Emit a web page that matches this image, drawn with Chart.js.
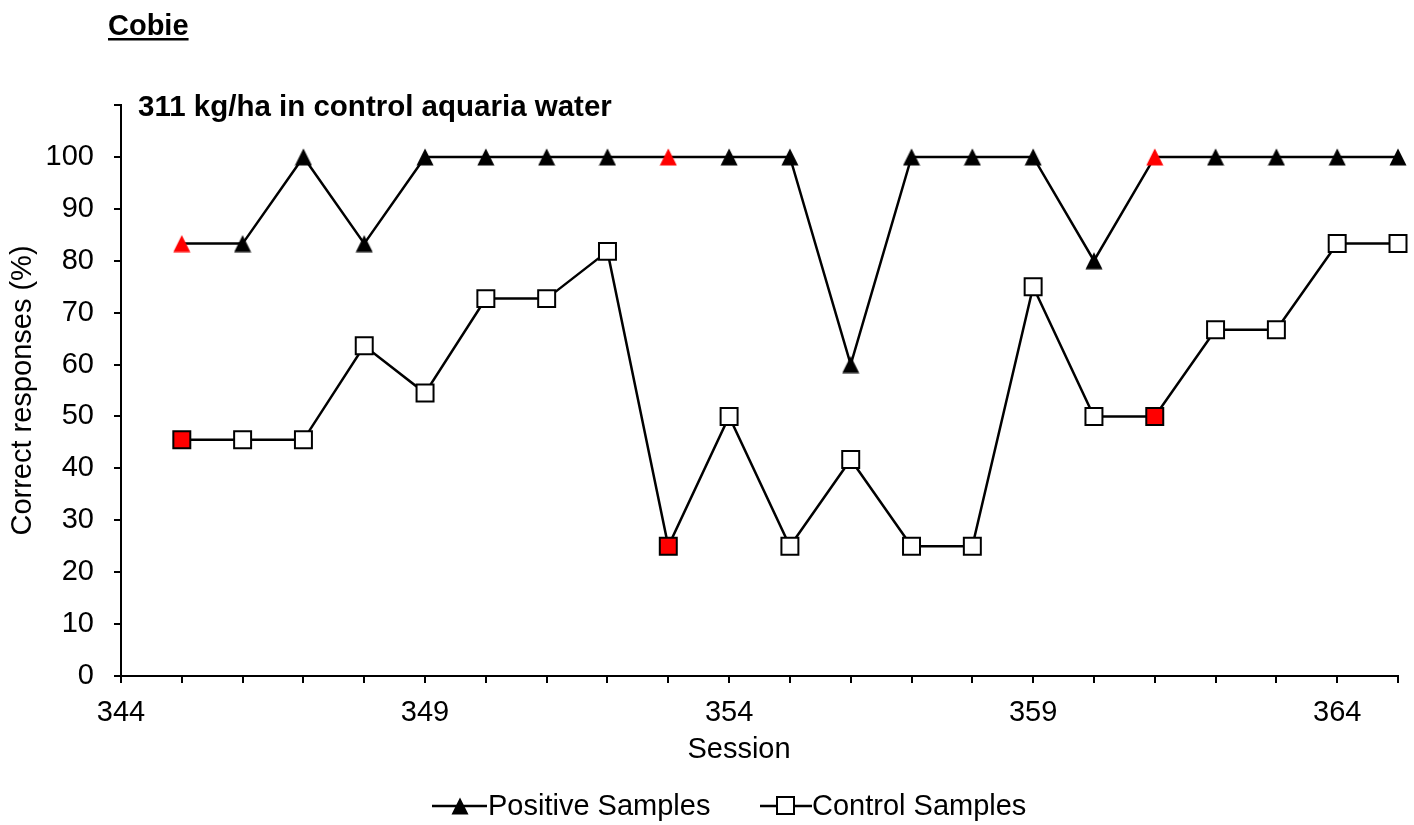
<!DOCTYPE html>
<html lang="en">
<head>
  <meta charset="UTF-8" />
  <title>Cobie</title>
  <script src="https://cdn.jsdelivr.net/npm/chart.js"></script>
  <style>
    body { margin: 0; background: #fff; }
    #chart { display: block; }
  </style>
</head>
<body>
  <canvas id="chart" width="1414" height="825"></canvas>

  <script>
    // sessions and % correct for each sample type
    const sessions = [345, 346, 347, 348, 349, 350, 351, 352, 353, 354, 355,
                      356, 357, 358, 359, 360, 361, 362, 363, 364, 365];
    const positive = [83.3, 83.3, 100, 83.3, 100, 100, 100, 100, 100, 100, 100,
                      60, 100, 100, 100, 80, 100, 100, 100, 100, 100];
    const control  = [45.5, 45.5, 45.5, 63.6, 54.5, 72.7, 72.7, 81.8, 25, 50, 25,
                      41.7, 25, 25, 75, 50, 50, 66.7, 66.7, 83.3, 83.3];
    // sessions marked in red
    const marked = [345, 353, 361];

    const FONT = 'Arial, "Liberation Sans", sans-serif';
    const FS = 29;
    const RED = '#ff0000';

    // triangle marker centred on its box (built-in one sits on its centroid)
    function triangle(color) {
      const cv = document.createElement('canvas');
      cv.width = 18; cv.height = 18;
      const g = cv.getContext('2d');
      g.fillStyle = color;
      g.beginPath();
      g.moveTo(9, 0.5); g.lineTo(17.5, 17.5); g.lineTo(0.5, 17.5);
      g.closePath();
      g.fill();
      return cv;
    }
    const triBlack = triangle('#000');
    const triRed = triangle(RED);

    const triStyles = sessions.map(s => marked.includes(s) ? triRed : triBlack);
    const sqColors  = sessions.map(s => marked.includes(s) ? RED : '#fff');

    // titles, x axis title and legend drawn straight onto the canvas
    const extras = {
      id: 'extras',
      afterDraw(chart) {
        const c = chart.ctx;
        c.save();
        c.fillStyle = '#000';
        c.textBaseline = 'alphabetic';
        c.textAlign = 'left';

        c.font = 'bold ' + FS + 'px ' + FONT;
        c.fillText('Cobie', 108, 35);
        const w = c.measureText('Cobie').width;
        c.fillRect(108, 38, w, 2.5);

        c.textBaseline = 'middle';
        c.font = 'bold 29.5px ' + FONT;
        c.fillText('311 kg/ha in control aquaria water', 138, 108);

        c.font = FS + 'px ' + FONT;
        c.textAlign = 'center';
        c.fillText('Session', 739, 750);

        // legend
        const ly = 806;
        c.strokeStyle = '#000';
        c.lineWidth = 2.5;
        c.beginPath();
        c.moveTo(432, ly); c.lineTo(487, ly);
        c.moveTo(760, ly); c.lineTo(812, ly);
        c.stroke();

        c.drawImage(triBlack, 451, ly - 9);

        c.fillStyle = '#fff';
        c.fillRect(777, ly - 9, 17, 17);
        c.lineWidth = 2;
        c.strokeRect(777, ly - 9, 17, 17);

        c.fillStyle = '#000';
        c.textAlign = 'left';
        c.fillText('Positive Samples', 488, ly + 1);
        c.fillText('Control Samples', 812, ly + 1);
        c.restore();
      }
    };

    const axisGrid = {
      drawOnChartArea: false,
      drawTicks: true,
      tickLength: 7,
      color: '#000',
      lineWidth: 2
    };

    new Chart(document.getElementById('chart'), {
      type: 'line',
      data: {
        datasets: [
          {
            label: 'Positive Samples',
            data: sessions.map((s, i) => ({ x: s, y: positive[i] })),
            borderColor: '#000',
            borderWidth: 2.5,
            pointStyle: triStyles,
            pointRadius: 9,
            tension: 0,
            clip: false
          },
          {
            label: 'Control Samples',
            data: sessions.map((s, i) => ({ x: s, y: control[i] })),
            borderColor: '#000',
            borderWidth: 2.5,
            pointStyle: 'rect',
            pointRadius: 12,
            pointBackgroundColor: sqColors,
            pointBorderColor: '#000',
            pointBorderWidth: 2,
            tension: 0,
            clip: false
          }
        ]
      },
      options: {
        responsive: false,
        animation: false,
        events: [],
        layout: { padding: { top: 105, right: 16, left: 0, bottom: 49 } },
        plugins: {
          legend: { display: false },
          title: { display: false },
          tooltip: { enabled: false }
        },
        scales: {
          x: {
            type: 'linear',
            min: 344,
            max: 365,
            grid: axisGrid,
            border: { display: true, color: '#000', width: 2 },
            ticks: {
              stepSize: 1,
              autoSkip: false,
              maxRotation: 0,
              padding: 13,
              color: '#000',
              font: { family: FONT, size: FS },
              callback: v => (v - 344) % 5 === 0 ? String(v) : ''
            },
            afterFit: s => { s.height = 100; }
          },
          y: {
            min: 0,
            max: 110,
            grid: axisGrid,
            border: { display: true, color: '#000', width: 2 },
            ticks: {
              stepSize: 10,
              padding: 20,
              color: '#000',
              font: { family: FONT, size: FS },
              callback: v => v === 110 ? '' : String(v)
            },
            title: {
              display: true,
              text: 'Correct responses (%)',
              color: '#000',
              font: { family: FONT, size: FS },
              padding: { top: 6, bottom: 0 }
            },
            afterFit: s => { s.width = 121; }
          }
        }
      },
      plugins: [extras]
    });
  </script>
</body>
</html>
